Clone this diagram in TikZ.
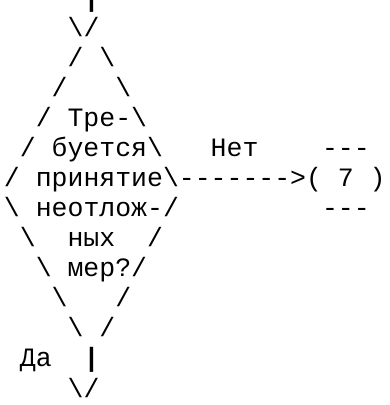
\documentclass[tikz,border=0pt]{standalone}
\usepackage{fontspec}
\setmonofont{Liberation Mono}
\newcommand\bs{\textbackslash}
\tikzset{
  ch/.style={inner sep=0pt,outer sep=0pt,anchor=base west,text=black,
    font=\ttfamily\fontsize{26.5}{30}\selectfont},
  pipe/.style={ch,font=\ttfamily\bfseries\fontsize{26.5}{30}\selectfont}
}
% \putc[style]{name}{column}{row}{text}
\newcommand\putc[5][ch]{\node[#1] (#2) at ({4+15.9*#3},{398-30*#4}) {#5};}
\begin{document}
\begin{tikzpicture}[x=1pt,y=1pt]
\useasboundingbox (0,0) rectangle (390,405);
% row 0
\putc[pipe]{inpipe}{5}{0}{|}
% row 1
\putc{r1l}{4}{1}{\bs}
\putc{r1r}{5}{1}{/}
% row 2
\putc{r2l}{4}{2}{/}
\putc{r2r}{6}{2}{\bs}
% row 3
\putc{r3l}{3}{3}{/}
\putc{r3r}{7}{3}{\bs}
% row 4
\putc{r4l}{2}{4}{/}
\putc{t1}{4}{4}{Тре-}
\putc{r4r}{8}{4}{\bs}
% row 5
\putc{r5l}{1}{5}{/}
\putc{t2}{3}{5}{буется}
\putc{r5r}{9}{5}{\bs}
\putc{no}{13}{5}{Нет}
\putc{ctop}{20}{5}{---}
% row 6
\putc{r6l}{0}{6}{/}
\putc{t3}{2}{6}{принятие}
\putc{r6r}{10}{6}{\bs}
\putc{arrow}{11}{6}{------->}
\putc{cl}{19}{6}{(}
\putc{seven}{21}{6}{7}
\putc{cr}{23}{6}{)}
% row 7
\putc{r7l}{0}{7}{\bs}
\putc{t4}{2}{7}{неотлож-}
\putc{r7r}{10}{7}{/}
\putc{cbot}{20}{7}{---}
% row 8
\putc{r8l}{1}{8}{\bs}
\putc{t5}{4}{8}{ных}
\putc{r8r}{9}{8}{/}
% row 9
\putc{r9l}{2}{9}{\bs}
\putc{t6}{4}{9}{мер?}
\putc{r9r}{8}{9}{/}
% row 10
\putc{r10l}{3}{10}{\bs}
\putc{r10r}{7}{10}{/}
% row 11
\putc{r11l}{4}{11}{\bs}
\putc{r11r}{6}{11}{/}
% row 12
\putc{yes}{1}{12}{Да}
\putc[pipe]{outpipe}{5}{12}{|}
% row 13
\putc{r13l}{4}{13}{\bs}
\putc{r13r}{5}{13}{/}
\end{tikzpicture}
\end{document}
